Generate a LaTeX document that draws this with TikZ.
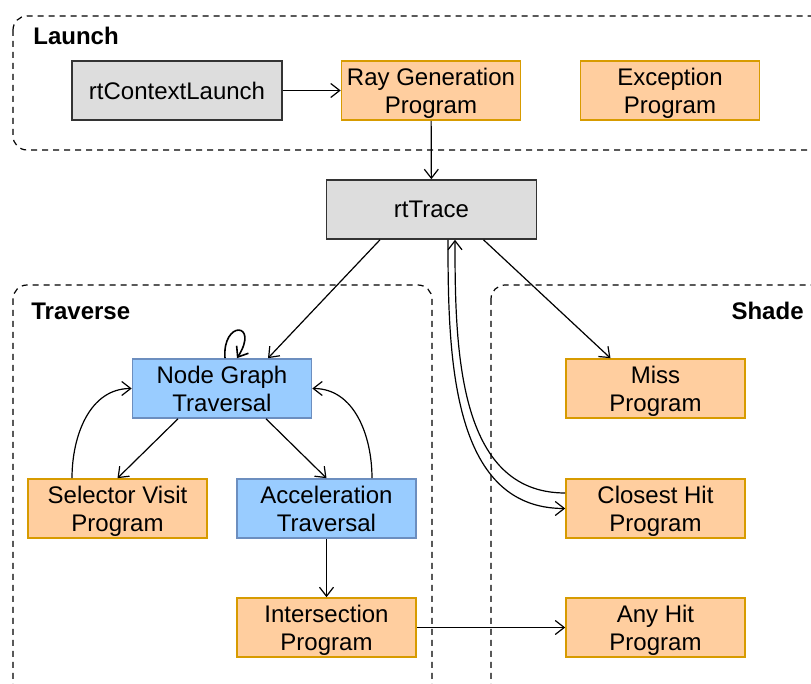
\documentclass[tikz,border=0pt]{standalone}
\usepackage{fontspec}
\setmainfont{Liberation Sans}
\usetikzlibrary{arrows.meta}

\definecolor{grayfill}{HTML}{DDDDDD}
\definecolor{graydraw}{HTML}{333333}
\definecolor{orangefill}{HTML}{FFCE9F}
\definecolor{orangedraw}{HTML}{D79B00}
\definecolor{bluefill}{HTML}{99CCFF}
\definecolor{bluedraw}{HTML}{6C8EBF}

\tikzset{
  box/.style={minimum width=89.5pt, minimum height=29.5pt, inner sep=0pt,
    align=center, line width=0.8pt, font=\fontsize{12}{14}\selectfont},
  twoline/.style={text height=26pt, text depth=2.6pt},
  callbox/.style={box, draw=graydraw, fill=grayfill, minimum width=105pt},
  progbox/.style={box, twoline, draw=orangedraw, fill=orangefill},
  travbox/.style={box, twoline, draw=bluedraw, fill=bluefill},
  group/.style={draw, dashed, dash pattern=on 3pt off 2.5pt, line width=0.6pt, rounded corners=7pt},
  grouplabel/.style={font=\fontsize{12}{14}\selectfont\bfseries, inner sep=0pt},
  flow/.style={-{Straight Barb[length=4.5pt, width=7pt]}, line width=0.6pt},
}

\begin{document}
\begin{tikzpicture}[x=0.5pt, y=-0.5pt]
  \useasboundingbox (0, 0) rectangle (811, 684);
  \clip (0, 0) rectangle (811, 684);

  % groups
  \draw[group] (13, 16) rectangle (840, 150);
  \draw[group] (13, 285) rectangle (432, 720);
  \draw[group] (491, 285) rectangle (840, 720);
  \node[grouplabel, anchor=west] (lbl1) at (33, 36) {Launch};
  \node[grouplabel, anchor=west] (lbl2) at (31, 311) {Traverse};
  \node[grouplabel, anchor=east] (lbl3) at (804, 311) {Shade};

  % nodes
  \node[callbox] (launch) at (177, 90.5) {rtContextLaunch};
  \node[progbox] (raygen) at (431, 90.5) {Ray Generation\\Program};
  \node[progbox] (exception) at (670, 90.5) {Exception\\Program};
  \node[callbox] (trace) at (431.5, 209.5) {rtTrace};
  \node[travbox] (ngt) at (222, 388.5) {Node Graph\\Traversal};
  \node[progbox] (selector) at (117.5, 508.5) {Selector Visit\\Program};
  \node[travbox] (accel) at (326.5, 508.5) {Acceleration\\Traversal};
  \node[progbox] (isect) at (326.5, 627.5) {Intersection\\Program};
  \node[progbox] (miss) at (655.5, 388.5) {Miss\\Program};
  \node[progbox] (closest) at (655.5, 508.5) {Closest Hit\\Program};
  \node[progbox] (anyhit) at (655.5, 627.5) {Any Hit\\Program};

  % connectors
  \draw[flow] (launch) -- (raygen);
  \draw[flow] (raygen) -- (trace);
  \draw[flow] ([xshift=-25.75pt]trace.south) -- ([xshift=23pt]ngt.north);
  \draw[flow] ([xshift=26pt]trace.south) -- ([xshift=-22.5pt]miss.north);
  \draw[flow] ([xshift=8.25pt]trace.south) to[out=-90, in=180] (closest.west);
  \draw[flow] ([yshift=7.75pt]closest.west) to[out=180, in=-90] ([xshift=11.75pt]trace.south);
  \draw[flow, line width=0.8pt] ([xshift=1.5pt]ngt.north) .. controls (222, 320) and (260, 322) .. ([xshift=7.5pt]ngt.north);
  \draw[flow] ([xshift=-22pt]ngt.south) -- (selector.north);
  \draw[flow] ([xshift=22pt]ngt.south) -- (accel.north);
  \draw[flow] ([xshift=-22.75pt]selector.north) to[out=90, in=180] (ngt.west);
  \draw[flow] ([xshift=22.75pt]accel.north) to[out=90, in=0] (ngt.east);
  \draw[flow] (accel) -- (isect);
  \draw[flow] (isect) -- (anyhit);
\end{tikzpicture}
\end{document}
